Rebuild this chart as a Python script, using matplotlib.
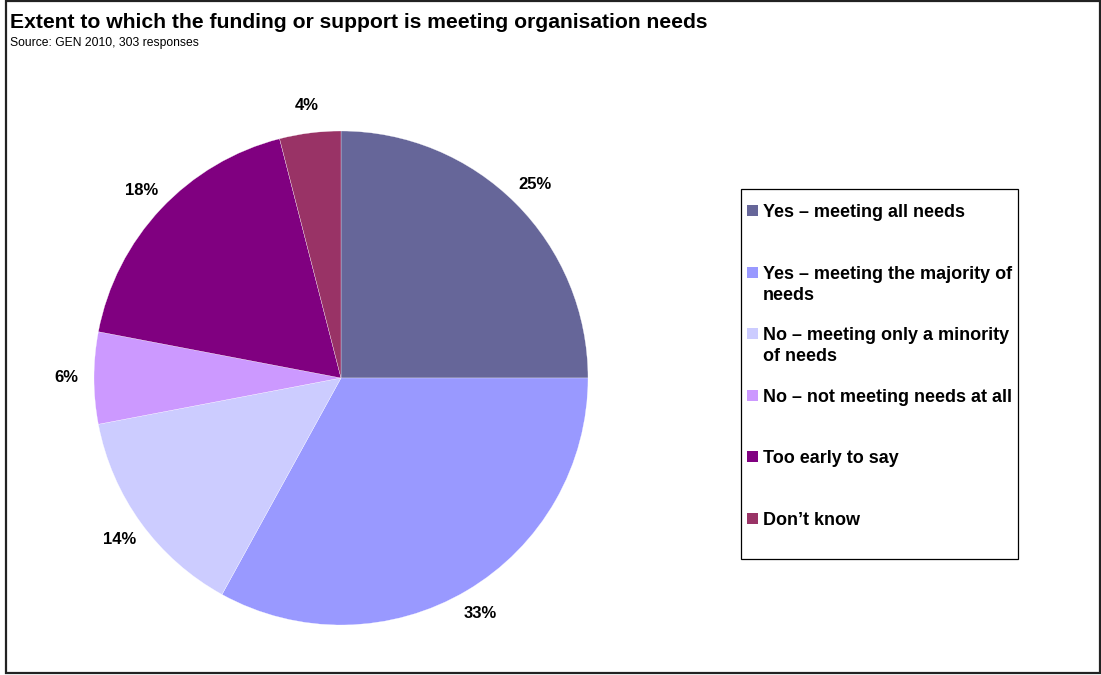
import matplotlib.pyplot as plt
from matplotlib.patches import Rectangle

plt.rcParams['font.family'] = ['Liberation Sans', 'DejaVu Sans']

labels = [
    'Yes \u2013 meeting all needs',
    'Yes \u2013 meeting the majority of\nneeds',
    'No \u2013 meeting only a minority\nof needs',
    'No \u2013 not meeting needs at all',
    'Too early to say',
    'Don\u2019t know',
]
shares = [25, 33, 14, 6, 18, 4]
colors = ['#666699', '#9999FF', '#CCCCFF', '#CC99FF', '#800080', '#993366']

W, H = 1101, 675
fig = plt.figure(figsize=(W / 100, H / 100), dpi=100)

# outer frame
fig.patches.append(Rectangle((6 / W, 2 / H), 1094 / W, 672 / H,
                             transform=fig.transFigure, fill=False,
                             edgecolor='#222222', linewidth=1.6))

fig.text(10 / W, 1 - 22 / H, 'Extent to which the funding or support is meeting organisation needs',
         fontsize=15.2, fontweight='bold', va='center', ha='left')
fig.text(10 / W, 1 - 43 / H, 'Source: GEN 2010, 303 responses',
         fontsize=8.7, va='center', ha='left')

# pie: centre (341, 378), radius 247 px
cx, cy, r = 341, 378, 247
ax = fig.add_axes([(cx - r) / W, (H - cy - r) / H, 2 * r / W, 2 * r / H])
wedges, texts = ax.pie(shares, colors=colors, startangle=90, counterclock=False,
                       labels=[f'{v}%' for v in shares], labeldistance=1.11,
                       wedgeprops=dict(edgecolor='white', linewidth=0.2))
for t in texts:
    t.set_fontsize(12)
    t.set_fontweight('bold')
    t.set_ha('center')
    t.set_va('center')
ax.set_xlim(-1, 1)
ax.set_ylim(-1, 1)
ax.set_aspect('equal')
ax.axis('off')

# legend box drawn by hand
lx0, ly0, lx1, ly1 = 741, 189, 1018, 559
fig.patches.append(Rectangle((lx0 / W, 1 - ly1 / H), (lx1 - lx0) / W, (ly1 - ly0) / H,
                             transform=fig.transFigure, fill=False,
                             edgecolor='black', linewidth=0.9))
step = 61.6
for i, (lab, col) in enumerate(zip(labels, colors)):
    ytop = 211 + i * step
    fig.patches.append(Rectangle((747 / W, 1 - (ytop + 5) / H), 11 / W, 11 / H,
                                 transform=fig.transFigure, facecolor=col,
                                 edgecolor='none'))
    fig.text(763 / W, 1 - (ytop - 7) / H, lab, fontsize=13, fontweight='bold',
             ha='left', va='top', linespacing=1.3)

fig.savefig('out.png', dpi=100)
